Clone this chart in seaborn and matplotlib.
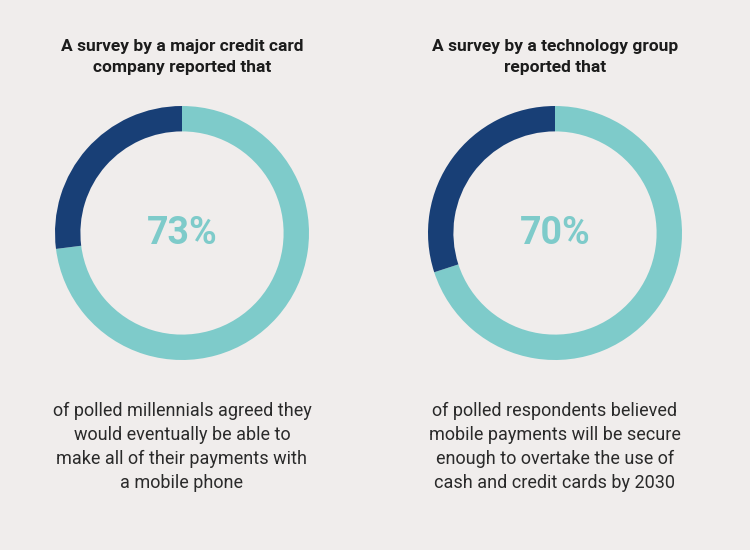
import matplotlib
matplotlib.use("Agg")
import matplotlib.pyplot as plt
import seaborn as sns

# ── data ────────────────────────────────────────────────────────────────────
shares = [73, 70]
titles = ["A survey by a major credit card\ncompany reported that",
          "A survey by a technology group\nreported that"]
captions = ["of polled millennials agreed they\nwould eventually be able to\n"
            "make all of their payments with\na mobile phone",
            "of polled respondents believed\nmobile payments will be secure\n"
            "enough to overtake the use of\ncash and credit cards by 2030"]

sns.set_theme(style="white")
plt.rcParams["font.family"] = ["Roboto", "DejaVu Sans"]

bg = "#f0edec"
teal = "#7ecbca"
navy = "#183f76"

W, H = 750, 550
fig = plt.figure(figsize=(W / 100, H / 100), dpi=100, facecolor=bg)

centers_x = [182, 555]
cy, r = 233, 127

for cx, pct, title, cap in zip(centers_x, shares, titles, captions):
    ax = fig.add_axes([(cx - r) / W, (H - cy - r) / H, 2 * r / W, 2 * r / H])
    ax.set_facecolor(bg)
    ax.pie([pct, 100 - pct], colors=[teal, navy], startangle=90,
           counterclock=False, radius=1.0,
           wedgeprops=dict(width=0.2, linewidth=0))
    ax.set_xlim(-1, 1)
    ax.set_ylim(-1, 1)
    ax.set_aspect("equal")
    ax.axis("off")
    ax.text(0, 0, f"{pct}%", ha="center", va="center", fontsize=27,
            fontweight="bold", color=teal)

    fig.text(cx / W, 1 - 57 / H, title, ha="center", va="center",
             fontsize=12.5, fontweight="bold", color="#1c1c1c",
             linespacing=1.45)
    fig.text(cx / W, 1 - 447 / H, cap, ha="center", va="center",
             fontsize=13, color="#2a2a2a", linespacing=1.42,
             family=["Liberation Sans Narrow", "Roboto", "DejaVu Sans"])

plt.savefig("out.png", dpi=100, facecolor=bg)
